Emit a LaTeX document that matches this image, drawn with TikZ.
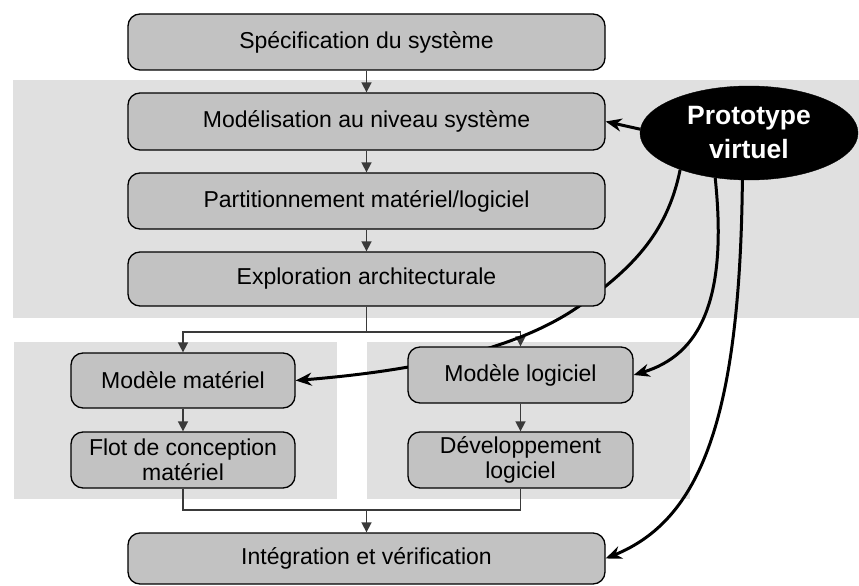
\documentclass[tikz,border=0pt]{standalone}
\usepackage{fontspec}
\setmainfont{Liberation Sans}
\usetikzlibrary{shapes.geometric,arrows.meta}
\definecolor{boxgray}{HTML}{C2C2C2}
\definecolor{zonegray}{HTML}{E0E0E0}
\definecolor{linkgray}{HTML}{3A3A3A}
\pgfdeclarelayer{zones}
\pgfdeclarelayer{links}
\pgfsetlayers{zones,links,main}
\begin{document}
\begin{tikzpicture}[x=1pt,y=-1pt,
  stepbox/.style={draw=black, line width=1.3pt, fill=boxgray, rounded corners=12pt,
    align=center, font=\fontsize{23}{25}\selectfont, inner sep=0pt},
  widebox/.style={stepbox, minimum width=477pt},
  halfbox/.style={stepbox, minimum width=224pt, minimum height=56pt},
  zone/.style={fill=zonegray, draw=none},
  flow/.style={draw=linkgray, line width=1.6pt, -{Triangle[length=10pt,width=10pt]}},
  plainlink/.style={draw=linkgray, line width=1.6pt},
  feed/.style={draw=black, line width=3pt, -{Stealth[length=16pt,width=13pt]}},
  proto/.style={ellipse, fill=black, draw=black, text=white, align=center,
    minimum width=218pt, minimum height=94pt, inner sep=0pt,
    font=\fontsize{26.5}{34}\selectfont\bfseries}]

\useasboundingbox (0,0) rectangle (859,586);

% shaded zones behind the flow
\begin{pgfonlayer}{zones}
  \fill[zone] (13,80) rectangle (859,318);
  \fill[zone] (14,342) rectangle (337,499);
  \fill[zone] (367,342) rectangle (690,499);
\end{pgfonlayer}

% design flow boxes
\node[widebox, minimum height=56pt] (spec)  at (366.5,42)  {Spécification du système};
\node[widebox, minimum height=57pt] (model) at (366.5,121.5) {Modélisation au niveau système};
\node[widebox, minimum height=56pt] (part)  at (366.5,201) {Partitionnement matériel/logiciel};
\node[widebox, minimum height=54pt] (explo) at (366.5,279) {Exploration architecturale};
\node[halfbox, minimum height=55pt] (matmod) at (183,380.5) {Modèle matériel};
\node[halfbox] (flot)   at (183,460)   {Flot de conception\\matériel};
\node[halfbox, minimum width=225pt] (logmod) at (520.5,375) {Modèle logiciel};
\node[halfbox, minimum width=225pt] (dev)    at (520.5,460) {Développement\\logiciel};
\node[widebox, minimum height=51pt] (integ) at (366.5,558.5) {Intégration et vérification};

% virtual prototype
\node[proto] (vp) at (749,133) {Prototype\\virtuel};

\coordinate (split) at (366.5,332);
\coordinate (join)  at (366.5,510);

\begin{pgfonlayer}{links}
  % main flow
  \draw[flow] (spec) -- (model);
  \draw[flow] (model) -- (part);
  \draw[flow] (part) -- (explo);
  \draw[plainlink] (explo.south) -- (split);
  \draw[flow] (split) -| (matmod.north);
  \draw[flow] (split) -| (logmod.north);
  \draw[flow] (matmod) -- (flot);
  \draw[flow] (logmod) -- (dev);
  \draw[plainlink] (flot.south) |- (join);
  \draw[plainlink] (dev.south) |- (join);
  \draw[flow] (join) -- (integ.north);

  % links from the virtual prototype
  \draw[feed] (vp.178) -- (model.east);
  \draw[feed] (vp.208) .. controls (667,235) and (630,270) .. (578,307)
                       .. controls (530,340) and (450,368) .. (matmod.east);
  \draw[feed] (vp.233) .. controls (728,300) and (700,355) .. (logmod.east);
  \draw[feed] (vp.262) .. controls (740,420) and (700,520) .. (integ.east);
\end{pgfonlayer}
\end{tikzpicture}
\end{document}
